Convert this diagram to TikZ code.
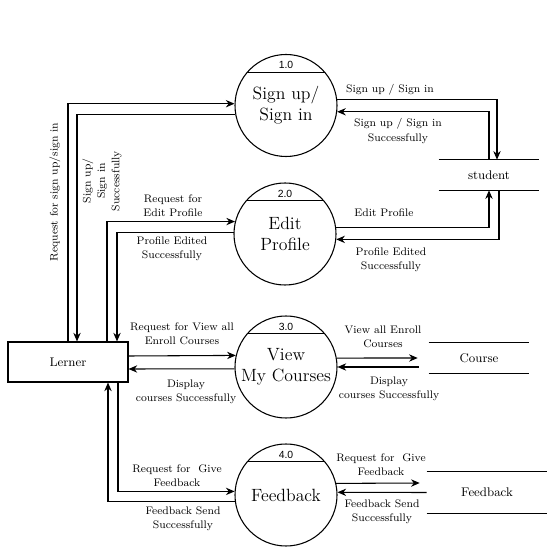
\documentclass[tikz,border=0pt]{standalone}
\usepackage{fontspec}
\newfontfamily\numfont{Liberation Sans}
\usetikzlibrary{arrows.meta,calc}
\begin{document}
\begin{tikzpicture}[x=0.75pt,y=-0.75pt,
  proc/.style={circle,draw,line width=0.8pt,minimum size=76.5pt,inner sep=0pt,align=center,font=\rmfamily\fontsize{13.3}{16}\selectfont},
  num/.style={font=\numfont\fontsize{7.8}{9}\selectfont,inner sep=0pt},
  lbl/.style={align=center,font=\rmfamily\fontsize{8.2}{10.8}\selectfont,inner sep=0pt},
  ent/.style={draw,line width=0.8pt,minimum width=90pt,minimum height=30pt,inner sep=0pt,font=\rmfamily\fontsize{9.4}{12}\selectfont},
  store/.style={minimum height=22.5pt,inner sep=0pt,font=\rmfamily\fontsize{9.4}{12}\selectfont},
  flow/.style={-{Stealth[length=6.5pt,width=5.5pt]},line width=0.8pt}]
\useasboundingbox (0,0) rectangle (560,548);

% processes
\node[proc] (p1) at (286,105.5) {Sign up/\\Sign in};
\node[proc] (p2) at (285,234) {Edit\\Profile};
\node[proc] (p3) at (286,367) {View\\My Courses};
\node[proc] (p4) at (286,495) {Feedback};
\foreach \p/\n in {p1/1.0,p2/2.0,p3/3.0,p4/4.0}{
  \draw[line width=0.8pt] (\p.140) -- (\p.40);
  \node[num] (n\p) at ($(\p)+(0,-40.5)$) {\n};
}

% entity
\node[ent] (L) at (68,362) {Lerner};

% stores
\node[store,minimum width=75pt] (S) at (489,175) {student};
\node[store,minimum width=75pt] (C) at (479,358) {Course};
\node[store,minimum width=90pt,minimum height=30.75pt] (F) at (487,492.5) {Feedback};
\foreach \s in {S,C,F}{
  \draw[line width=0.8pt] (\s.north west) -- (\s.north east) (\s.south west) -- (\s.south east);
}

% Lerner <-> processes
\draw[flow] (L.north) |- (p1.178);
\draw[flow] (p1.190) -| ($(L.north)+(9,0)$);
\draw[flow] ($(L.north)+(39,0)$) |- (p2.166);
\draw[flow] (p2.178) -| ($(L.north)+(49,0)$);
\draw[flow] ($(L.east)+(0,-6)$) -- (p3.167.5);
\draw[flow] (p3.182.2) -- ($(L.east)+(0,7)$);
\draw[flow] ($(L.south)+(50,0)$) |- (p4.176.6);
\draw[flow] (p4.187.9) -| ($(L.south)+(40,0)$);

% processes <-> stores
\draw[flow] (p1.7) -| ($(S.north)+(8,0)$);
\draw[flow] (S.north) |- (p1.353.8);
\draw[flow] (p2.7.9) -| (S.south);
\draw[flow] ($(S.south)+(10,0)$) |- (p2.354.4);
\draw[flow] (p3.10.2) -- ($(C.west)+(-11,0)$);
\draw[flow] ($(C.west)+(-10,9)$) -- (p3.0);
\draw[flow] (p4.13.6) -- ($(F.west)+(-7,-9.5)$);
\draw[flow] (F.west) -- (p4.3.4);

% labels left
\node[lbl,rotate=90] (a1) at (55,192) {Request for sign up/sign in};
\node[lbl,rotate=90] (a2) at (102,181) {Sign up/\\Sign in\\Successfully};
\node[lbl] (a3) at (173,206) {Request for\\Edit Profile};
\node[lbl] (a4) at (172,249) {Profile Edited\\Successfully};
\node[lbl] (a5) at (182,334) {Request for View all\\Enroll Courses};
\node[lbl] (a6) at (186,392) {Display\\courses Successfully};
\node[lbl] (a7) at (177,476) {Request for~ Give\\Feedback};
\node[lbl] (a8) at (183,519) {Feedback Send\\Successfully};

% labels right
\node[lbl] (b1) at (390,90) {Sign up / Sign in};
\node[lbl] (b2) at (398,131) {Sign up / Sign in\\Successfully};
\node[lbl] (b3) at (384,213) {Edit Profile};
\node[lbl] (b4) at (391,260) {Profile Edited\\Successfully};
\node[lbl] (b5) at (383,337) {View all Enroll\\Courses};
\node[lbl] (b6) at (389,389) {Display\\courses Successfully};
\node[lbl] (b7) at (381,465) {Request for~ Give\\Feedback};
\node[lbl] (b8) at (382,512) {Feedback Send\\Successfully};
\end{tikzpicture}
\end{document}
